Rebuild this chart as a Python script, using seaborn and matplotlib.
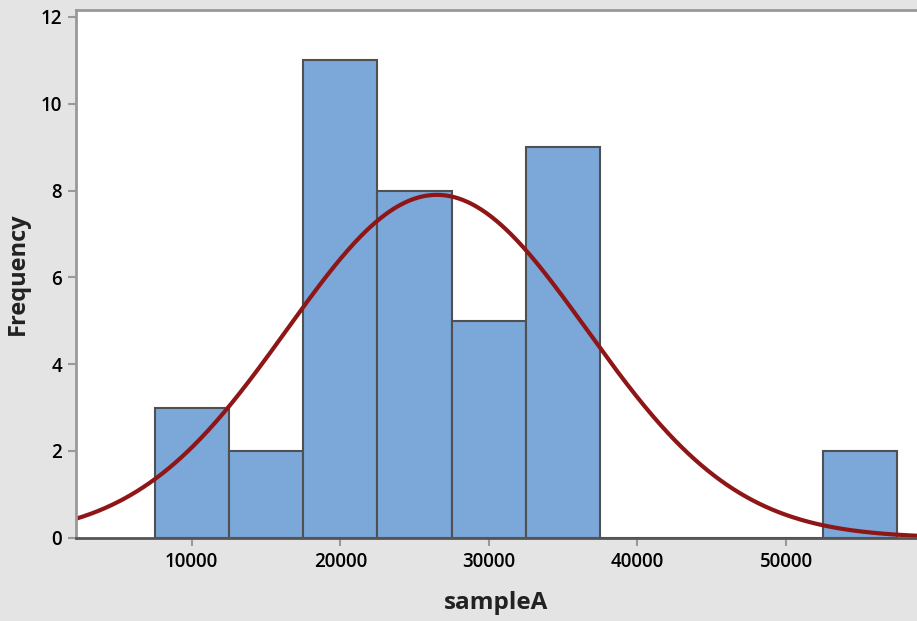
import numpy as np
import matplotlib
matplotlib.use("Agg")
import matplotlib.pyplot as plt
import seaborn as sns

# histogram bins (Minitab style, width 5000) and counts
bin_centers = [10000, 15000, 20000, 25000, 30000, 35000, 40000, 45000, 50000, 55000]
counts = [3, 2, 11, 8, 5, 9, 0, 0, 0, 2]
bin_edges = [7500, 12500, 17500, 22500, 27500, 32500, 37500, 42500, 47500, 52500, 57500]

# fitted normal curve parameters
fit_mean = 26500
fit_sd = 10100
n_obs = sum(counts)
bin_width = 5000

sns.set_style("white")
plt.rcParams['font.family'] = ['Open Sans', 'DejaVu Sans']

fig = plt.figure(figsize=(9.17, 6.21), dpi=100, facecolor='#e4e4e4')
ax = fig.add_axes([0.0829, 0.134, 0.9171, 0.850])
ax.set_facecolor('white')

sns.histplot(x=bin_centers, weights=counts, bins=bin_edges, ax=ax,
             color='#7ba7d9', alpha=1.0, edgecolor='#505050', linewidth=1.5)

xs = np.linspace(0, 65000, 600)
ys = n_obs * bin_width / (fit_sd * np.sqrt(2 * np.pi)) * np.exp(-0.5 * ((xs - fit_mean) / fit_sd) ** 2)
sns.lineplot(x=xs, y=ys, ax=ax, color='#8f1616', linewidth=3)

ax.set_xlim(2214, 58816)
ax.set_ylim(0, 12.16)
ax.set_xticks([10000, 20000, 30000, 40000, 50000])
ax.set_yticks([0, 2, 4, 6, 8, 10, 12])

ax.tick_params(axis='both', direction='out', length=6, width=1.5, color='#999999',
               labelsize=13.5, labelcolor='#000000', pad=4, bottom=True, left=True)
for lab in ax.get_xticklabels() + ax.get_yticklabels():
    lab.set_fontweight('semibold')

ax.set_xlabel('sampleA', fontsize=17.5, fontweight='bold', color='#222222', labelpad=14)
ax.set_ylabel('Frequency', fontsize=17, fontweight='bold', color='#222222', labelpad=8)

ax.spines['right'].set_visible(False)
for s in ['left', 'top']:
    ax.spines[s].set_color('#999999')
    ax.spines[s].set_linewidth(2)
ax.spines['bottom'].set_color('#555555')
ax.spines['bottom'].set_linewidth(2)

fig.savefig('out.png', dpi=100, facecolor=fig.get_facecolor())
